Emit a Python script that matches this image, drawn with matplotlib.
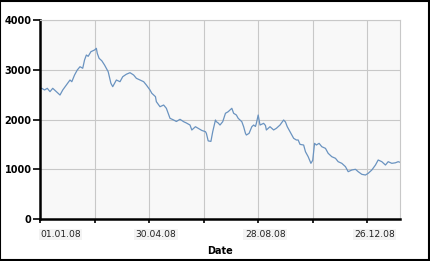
import matplotlib
matplotlib.use("Agg")
import matplotlib.pyplot as plt
import matplotlib.dates as mdates
import matplotlib.transforms as mtransforms
import numpy as np
import pandas as pd

start_date = "2008-01-01"
day_offsets = [0, 2, 5, 8, 11, 14, 18, 22, 25, 29, 33, 35, 38, 41, 44, 47, 49, 51, 53, 56,
               60, 62, 63, 65, 68, 71, 75, 78, 80, 84, 88, 91, 95, 99, 103, 106, 110, 114, 117, 121,
               123, 127, 128, 132, 136, 139, 143, 147, 150, 154, 158, 161, 165, 167, 171, 174, 178, 182, 183, 185,
               188, 190, 193, 194, 196, 198, 201, 204, 207, 211, 213, 216, 218, 222, 224, 226, 227, 230, 233, 235,
               237, 238, 240, 242, 246, 248, 249, 253, 257, 260, 264, 268, 270, 272, 275, 279, 282, 284, 286, 290,
               292, 295, 298, 300, 302, 304, 307, 310, 314, 317, 321, 325, 328, 332, 336, 339, 343, 347, 350, 354,
               358, 361, 365, 369, 372, 376, 380, 383, 387, 391, 394, 396]
values = [2620, 2627, 2593, 2627, 2560, 2627, 2560, 2492, 2593, 2693, 2794, 2760, 2894, 2995, 3061, 3030, 3196, 3296, 3270, 3363,
          3397, 3431, 3330, 3230, 3180, 3095, 2961, 2727, 2660, 2794, 2760, 2860, 2910, 2941, 2894, 2828, 2794, 2760, 2693, 2593,
          2527, 2459, 2358, 2257, 2291, 2225, 2024, 1990, 1960, 2004, 1956, 1930, 1889, 1789, 1855, 1823, 1780, 1755, 1722, 1570,
          1560, 1755, 1990, 1956, 1930, 1889, 1956, 2125, 2157, 2225, 2125, 2090, 2024, 1956, 1855, 1722, 1688, 1722, 1855, 1889,
          1860, 1923, 2090, 1889, 1923, 1880, 1789, 1855, 1790, 1823, 1889, 1990, 1950, 1855, 1755, 1622, 1588, 1588, 1500, 1487,
          1353, 1252, 1119, 1180, 1521, 1487, 1521, 1453, 1420, 1320, 1252, 1220, 1152, 1119, 1052, 951, 985, 999, 951, 898,
          884, 918, 985, 1085, 1186, 1152, 1085, 1152, 1119, 1130, 1152, 1140]
y_ticks = [0, 1000, 2000, 3000, 4000]
x_tick_days = [0, 60, 120, 180, 240, 300, 360]
x_tick_labels = ["01.01.08", "", "30.04.08", "", "28.08.08", "", "26.12.08"]
x_label = "Date"

base = pd.Timestamp(start_date)
dates = [base + pd.Timedelta(days=d) for d in day_offsets]
tick_dates = [base + pd.Timedelta(days=d) for d in x_tick_days]

W, H = 430, 261
fig = plt.figure(figsize=(W / 100, H / 100), dpi=100)
fig.patch.set_facecolor("white")
fig.patches.append(plt.Rectangle((0.001, 0.002), 0.997, 0.995, transform=fig.transFigure,
                                 fill=False, edgecolor="black", linewidth=1.5))

ax = fig.add_axes([40 / W, (H - 219) / H, 360 / W, 199 / H])
ax.set_facecolor("#f8f8f8")
ax.plot(dates, values, color="#6a93c0", linewidth=0.9)

ax.set_ylim(0, 4000)
ax.set_xlim(base, base + pd.Timedelta(days=396))
ax.set_yticks(y_ticks)
ax.set_yticklabels([str(v) for v in y_ticks], fontsize=7, fontweight="bold")
ax.set_xticks(tick_dates)
ax.set_xticklabels(x_tick_labels, fontsize=6.6, color="#222222")
ax.grid(True, color="#c8c8c8", linewidth=0.8)
ax.set_axisbelow(True)

for s in ["top", "right"]:
    ax.spines[s].set_color("#c8c8c8")
    ax.spines[s].set_linewidth(0.8)
for s in ["left", "bottom"]:
    ax.spines[s].set_color("black")
    ax.spines[s].set_linewidth(1.8)

ax.tick_params(axis="y", length=5, width=1.2, pad=1, colors="black")
ax.tick_params(axis="x", length=3, width=1.2, pad=5)

for i, lbl in enumerate(ax.get_xticklabels()):
    if i == 0:
        lbl.set_horizontalalignment("left")
    else:
        lbl.set_transform(lbl.get_transform() + mtransforms.ScaledTranslation(7 / 100, 0, fig.dpi_scale_trans))
    lbl.set_bbox(dict(facecolor="#f3f3f3", edgecolor="none", pad=1))

ax.set_xlabel(x_label, fontsize=7, fontweight="bold", labelpad=5)

fig.savefig("out.png", dpi=100)
